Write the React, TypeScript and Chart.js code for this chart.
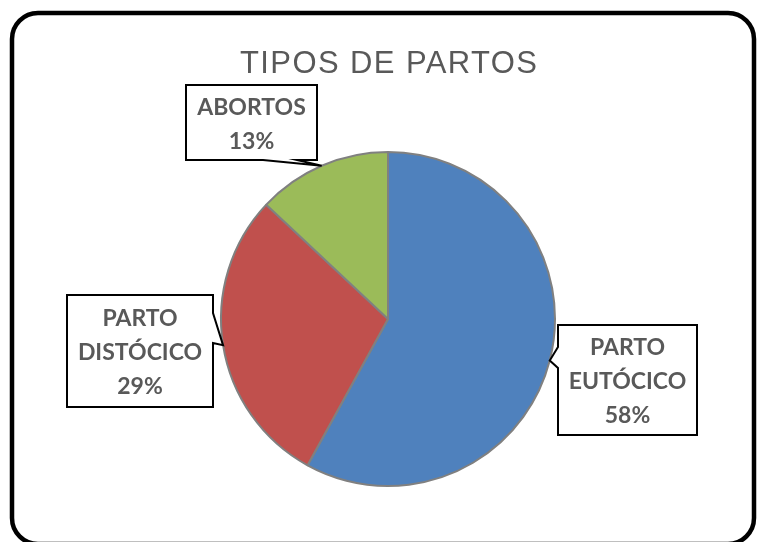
import React, { useEffect, useRef } from "react";
import { Chart, registerables } from "chart.js";

Chart.register(...registerables);

const categories = ["PARTO EUTÓCICO", "PARTO DISTÓCICO", "ABORTOS"];
const labelLines = [["PARTO", "EUTÓCICO"], ["PARTO", "DISTÓCICO"], ["ABORTOS"]];
const values = [58, 29, 13];
const colors = ["#4F81BD", "#C0504D", "#9BBB59"];
const chartTitle = "TIPOS DE PARTOS";

type Box = { x1: number; y1: number; x2: number; y2: number; side: "left" | "right" | "bottom"; b1: number; b2: number };

const boxes: Box[] = [
  { x1: 558, y1: 325, x2: 697, y2: 435, side: "left", b1: 347, b2: 368 },
  { x1: 67, y1: 295, x2: 213, y2: 407, side: "right", b1: 313, b2: 343 },
  { x1: 186, y1: 85, x2: 317, y2: 160, side: "bottom", b1: 263, b2: 297 },
];

const W = 757;
const H = 542;

const overlayPlugin = {
  id: "overlay",
  afterDraw(chart: any) {
    const ctx: CanvasRenderingContext2D = chart.ctx;
    ctx.save();

    // outer rounded frame
    ctx.beginPath();
    (ctx as any).roundRect(12, 13, 742, 531, 26);
    ctx.lineWidth = 4.5;
    ctx.strokeStyle = "#000000";
    ctx.stroke();

    // title
    ctx.font = "400 31px 'Liberation Sans'";
    ctx.fillStyle = "#595959";
    ctx.textAlign = "center";
    ctx.textBaseline = "alphabetic";
    const target = 297;
    const w0 = ctx.measureText(chartTitle).width;
    const sp = Math.max(0, (target - w0) / (chartTitle.length - 1));
    (ctx as any).letterSpacing = sp + "px";
    ctx.fillText(chartTitle, 388.5 + sp / 2, 73);
    (ctx as any).letterSpacing = "0px";

    // data labels with callouts
    const meta = chart.getDatasetMeta(0);
    const total = values.reduce((a, b) => a + b, 0);
    meta.data.forEach((arc: any, i: number) => {
      const p = arc.getProps(["x", "y", "startAngle", "endAngle", "outerRadius"], true);
      const mid = (p.startAngle + p.endAngle) / 2;
      const tx = p.x + Math.cos(mid) * p.outerRadius;
      const ty = p.y + Math.sin(mid) * p.outerRadius;
      const b = boxes[i];
      ctx.beginPath();
      ctx.moveTo(b.x1, b.y1);
      ctx.lineTo(b.x2, b.y1);
      if (b.side === "right") {
        ctx.lineTo(b.x2, b.b1);
        ctx.lineTo(tx, ty);
        ctx.lineTo(b.x2, b.b2);
      }
      ctx.lineTo(b.x2, b.y2);
      if (b.side === "bottom") {
        ctx.lineTo(b.b2, b.y2);
        ctx.lineTo(tx, ty);
        ctx.lineTo(b.b1, b.y2);
      }
      ctx.lineTo(b.x1, b.y2);
      if (b.side === "left") {
        ctx.lineTo(b.x1, b.b2);
        ctx.lineTo(tx, ty);
        ctx.lineTo(b.x1, b.b1);
      }
      ctx.closePath();
      ctx.fillStyle = "#ffffff";
      ctx.fill();
      ctx.lineWidth = 2;
      ctx.lineJoin = "miter";
      ctx.strokeStyle = "#000000";
      ctx.stroke();

      const pct = Math.round((values[i] / total) * 100) + "%";
      const lines = [...labelLines[i], pct];
      const lh = 34;
      const cx = (b.x1 + b.x2) / 2;
      const cy = (b.y1 + b.y2) / 2 + 2;
      ctx.font = "700 23px Lato";
      ctx.fillStyle = "#595959";
      ctx.textAlign = "center";
      ctx.textBaseline = "middle";
      lines.forEach((ln, k) => {
        const y = cy + (k - (lines.length - 1) / 2) * lh;
        ctx.fillText(ln, cx, y);
      });
    });

    ctx.restore();
  },
};

export default function App() {
  const ref = useRef<HTMLCanvasElement | null>(null);

  useEffect(() => {
    if (!ref.current) return;
    const chart = new Chart(ref.current, {
      type: "pie",
      data: {
        labels: categories,
        datasets: [
          {
            data: values,
            backgroundColor: colors,
            borderColor: "#808080",
            borderWidth: 2,
          },
        ],
      },
      options: {
        responsive: false,
        animation: false,
        events: [],
        layout: { padding: { left: 220, right: 201, top: 151, bottom: 55 } },
        plugins: {
          legend: { display: false },
          title: { display: false },
          tooltip: { enabled: false },
        },
      },
      plugins: [overlayPlugin],
    });
    return () => chart.destroy();
  }, []);

  return (
    <div style={{ position: "absolute", left: 0, top: 0, width: W, height: H, background: "#ffffff" }}>
      <canvas ref={ref} width={W} height={H} style={{ display: "block", width: W, height: H }} />
    </div>
  );
}
